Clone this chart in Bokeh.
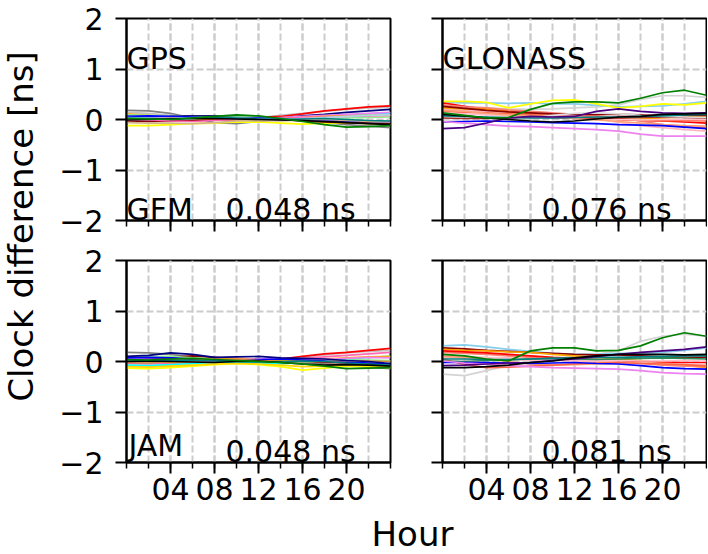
import math
from bokeh.plotting import figure
from bokeh.layouts import row, column
from bokeh.models import Range1d, FixedTicker, Label, CustomLabelingPolicy
from bokeh.embed import file_html
from bokeh.resources import INLINE

# ---------------- data ----------------
HOURS = [0, 2, 4, 6, 8, 10, 12, 14, 16, 18, 20, 22, 24]
X_MAJOR_TICKS = [4, 8, 12, 16, 20]
X_MINOR_TICKS = [0, 2, 4, 6, 8, 10, 12, 14, 16, 18, 20, 22, 24]
X_TICK_LABELS = ["04", "08", "12", "16", "20"]
Y_TICKS = [-2, -1, 0, 1, 2]
Y_TICK_LABELS = ["\u22122", "\u22121", "0", "1", "2"]

SYSTEMS = ["GPS", "GLONASS"]
CENTERS = ["GFM", "JAM"]
RMS_TEXT = [["0.048 ns", "0.076 ns"], ["0.048 ns", "0.081 ns"]]

GPS_GFM_COLORS = ["gray", "silver", "red", "navy", "midnightblue", "cyan", "yellow",
                  "violet", "orange", "darkred", "lightgreen", "hotpink", "blue", "tan",
                  "lightblue", "teal", "black", "green"]
GPS_GFM_VALUES = [
    [0.18, 0.17, 0.12, 0.03, -0.06, -0.08, -0.04, 0.00, -0.02, -0.06, -0.10, -0.13, -0.16],
    [0.14, 0.12, 0.08, 0.05, 0.03, 0.02, 0.04, 0.08, 0.12, 0.16, 0.20, 0.23, 0.24],
    [0.08, 0.07, 0.05, 0.03, 0.02, 0.03, 0.04, 0.06, 0.11, 0.17, 0.21, 0.25, 0.27],
    [0.06, 0.05, 0.06, 0.07, 0.06, 0.04, 0.04, 0.03, 0.07, 0.10, 0.14, 0.17, 0.20],
    [0.02, 0.03, 0.05, 0.07, 0.07, 0.05, 0.02, 0.02, 0.00, -0.03, -0.05, -0.08, -0.11],
    [0.03, 0.01, -0.01, -0.02, 0.00, 0.02, 0.00, -0.01, 0.02, 0.05, 0.08, 0.11, 0.13],
    [-0.12, -0.12, -0.10, -0.08, -0.07, -0.05, -0.05, -0.07, -0.09, -0.07, -0.06, -0.08, -0.10],
    [0.05, 0.06, 0.04, 0.03, 0.02, 0.00, 0.02, 0.04, 0.06, 0.08, 0.10, 0.12, 0.14],
    [0.11, 0.08, 0.05, 0.02, 0.00, -0.01, 0.00, 0.02, 0.04, 0.06, 0.07, 0.08, 0.08],
    [-0.03, -0.04, -0.03, -0.02, -0.01, 0.00, 0.01, 0.00, -0.03, -0.05, -0.06, -0.07, -0.08],
    [0.09, 0.08, 0.06, 0.05, 0.04, 0.05, 0.04, 0.02, 0.00, 0.02, 0.03, 0.04, 0.05],
    [0.00, -0.01, -0.03, -0.04, -0.02, 0.00, 0.01, 0.02, 0.04, 0.05, 0.06, 0.07, 0.08],
    [0.06, 0.07, 0.06, 0.05, 0.03, 0.02, 0.03, 0.02, 0.00, -0.02, -0.03, -0.04, -0.05],
    [-0.06, -0.07, -0.07, -0.08, -0.06, -0.03, -0.02, -0.03, -0.01, 0.00, -0.02, -0.04, -0.05],
    [0.04, 0.03, 0.02, 0.03, 0.04, 0.03, 0.01, 0.00, 0.02, 0.04, 0.06, 0.08, 0.09],
    [0.03, 0.02, 0.01, 0.03, 0.05, 0.03, 0.01, 0.00, 0.01, 0.02, 0.00, -0.02, -0.03],
    [-0.01, 0.00, 0.01, 0.02, 0.02, 0.01, 0.00, -0.01, -0.02, -0.04, -0.06, -0.08, -0.10],
    [0.02, 0.01, 0.00, 0.03, 0.06, 0.09, 0.07, 0.02, -0.04, -0.10, -0.15, -0.14, -0.12],
]

GPS_JAM_COLORS = ["gray", "silver", "red", "darkred", "lightgreen", "hotpink", "cyan",
                  "yellow", "gold", "orange", "violet", "blue", "peru", "teal", "black",
                  "green", "navy"]
GPS_JAM_VALUES = [
    [0.18, 0.17, 0.14, 0.08, 0.02, 0.00, -0.01, 0.00, -0.02, -0.05, -0.08, -0.11, -0.14],
    [-0.08, -0.09, -0.07, -0.05, -0.03, -0.02, 0.00, 0.03, 0.08, 0.13, 0.17, 0.20, 0.22],
    [0.03, 0.04, 0.05, 0.06, 0.05, 0.04, 0.03, 0.05, 0.10, 0.15, 0.18, 0.22, 0.26],
    [0.05, 0.06, 0.08, 0.11, 0.08, 0.05, 0.03, 0.02, 0.00, -0.02, -0.03, -0.04, -0.05],
    [0.08, 0.09, 0.10, 0.07, 0.05, 0.04, 0.03, 0.04, 0.06, 0.05, 0.04, 0.03, 0.02],
    [-0.04, -0.05, -0.04, -0.02, 0.00, 0.01, 0.02, 0.03, 0.06, 0.09, 0.12, 0.15, 0.18],
    [-0.07, -0.08, -0.06, -0.04, -0.02, -0.01, -0.03, -0.05, -0.02, 0.02, 0.05, 0.08, 0.10],
    [-0.13, -0.14, -0.12, -0.09, -0.06, -0.04, -0.06, -0.10, -0.17, -0.13, -0.09, -0.10, -0.12],
    [-0.10, -0.11, -0.09, -0.07, -0.05, -0.04, -0.05, -0.07, -0.10, -0.09, -0.07, -0.08, -0.09],
    [0.02, 0.00, -0.02, 0.00, 0.05, 0.06, 0.04, 0.02, 0.03, 0.05, 0.07, 0.09, 0.10],
    [0.06, 0.05, 0.03, 0.02, 0.03, 0.04, 0.05, 0.06, 0.05, 0.04, 0.06, 0.08, 0.07],
    [0.07, 0.08, 0.07, 0.05, 0.03, 0.02, 0.04, 0.05, 0.03, 0.01, -0.01, -0.03, -0.05],
    [-0.02, -0.03, 0.00, 0.02, 0.05, 0.04, 0.02, 0.00, -0.01, 0.00, 0.02, 0.01, 0.00],
    [0.01, 0.02, 0.03, 0.02, 0.01, 0.00, -0.01, 0.00, 0.01, 0.00, -0.03, -0.05, -0.07],
    [0.00, 0.01, 0.00, -0.01, -0.02, 0.00, 0.01, -0.02, -0.05, -0.07, -0.06, -0.07, -0.09],
    [0.04, 0.03, 0.05, 0.06, 0.04, 0.02, 0.00, -0.02, -0.05, -0.09, -0.14, -0.13, -0.12],
    [0.10, 0.12, 0.17, 0.14, 0.08, 0.09, 0.10, 0.07, 0.06, 0.05, 0.02, 0.00, -0.04],
]

GLO_GFM_COLORS = ["lightgray", "skyblue", "red", "salmon", "lightpink", "orange", "tomato",
                  "darkred", "pink", "brown", "lightsalmon", "gainsboro", "teal", "blue",
                  "violet", "yellow", "indigo", "black", "green"]
GLO_GFM_VALUES = [
    [0.26, 0.24, 0.23, 0.21, 0.20, 0.21, 0.23, 0.25, 0.29, 0.40, 0.47, 0.47, 0.44],
    [0.34, 0.33, 0.33, 0.32, 0.33, 0.31, 0.31, 0.28, 0.25, 0.26, 0.27, 0.31, 0.36],
    [0.33, 0.26, 0.20, 0.16, 0.13, 0.10, 0.07, 0.03, 0.00, -0.02, -0.03, -0.05, -0.07],
    [0.29, 0.25, 0.23, 0.19, 0.16, 0.13, 0.10, 0.07, 0.03, -0.03, -0.10, -0.14, -0.16],
    [0.20, 0.18, 0.16, 0.15, 0.13, 0.10, 0.07, 0.02, -0.06, -0.12, -0.16, -0.20, -0.23],
    [0.23, 0.21, 0.20, 0.15, 0.10, 0.06, 0.03, 0.01, 0.00, 0.01, 0.03, 0.05, 0.07],
    [0.16, 0.14, 0.13, 0.11, 0.09, 0.07, 0.05, 0.03, 0.00, -0.02, -0.03, -0.02, -0.03],
    [0.26, 0.22, 0.18, 0.15, 0.13, 0.11, 0.10, 0.10, 0.10, 0.09, 0.07, 0.08, 0.08],
    [0.13, 0.11, 0.09, 0.07, 0.05, 0.04, 0.03, 0.02, 0.00, -0.01, 0.00, 0.00, 0.00],
    [0.03, 0.02, 0.02, 0.03, 0.05, 0.04, 0.02, 0.02, 0.03, 0.04, 0.05, 0.04, 0.03],
    [0.18, 0.16, 0.12, 0.09, 0.07, 0.05, 0.02, -0.01, -0.04, -0.07, -0.10, -0.12, -0.13],
    [0.00, -0.05, -0.04, -0.02, 0.03, 0.08, 0.12, 0.13, 0.11, 0.08, 0.06, 0.05, 0.04],
    [0.07, 0.06, 0.05, 0.04, 0.03, 0.03, 0.04, 0.05, 0.05, 0.06, 0.07, 0.09, 0.10],
    [-0.05, -0.04, -0.03, -0.04, -0.05, -0.06, -0.07, -0.08, -0.10, -0.11, -0.12, -0.15, -0.18],
    [-0.04, -0.07, -0.10, -0.13, -0.14, -0.16, -0.18, -0.20, -0.23, -0.29, -0.33, -0.33, -0.33],
    [0.36, 0.36, 0.34, 0.23, 0.31, 0.38, 0.39, 0.31, 0.23, 0.26, 0.31, 0.29, 0.33],
    [-0.18, -0.16, -0.07, 0.03, 0.06, 0.05, 0.06, 0.16, 0.21, 0.16, 0.13, 0.12, 0.13],
    [0.10, 0.07, 0.03, 0.00, -0.03, -0.05, -0.03, 0.01, 0.05, 0.06, 0.10, 0.11, 0.12],
    [0.13, 0.08, 0.03, 0.04, 0.20, 0.32, 0.35, 0.35, 0.33, 0.42, 0.53, 0.58, 0.48],
]

GLO_JAM_COLORS = ["lightgray", "skyblue", "darkred", "orange", "salmon", "red", "pink",
                  "lightpink", "lightsalmon", "tomato", "seagreen", "teal", "blue",
                  "violet", "indigo", "black", "green"]
GLO_JAM_VALUES = [
    [-0.25, -0.28, -0.18, -0.08, -0.02, 0.05, 0.11, 0.14, 0.21, 0.40, 0.50, 0.54, 0.50],
    [0.31, 0.33, 0.29, 0.24, 0.20, 0.16, 0.14, 0.14, 0.16, 0.16, 0.18, 0.22, 0.27],
    [0.27, 0.25, 0.22, 0.20, 0.18, 0.16, 0.14, 0.13, 0.13, 0.11, 0.09, 0.08, 0.08],
    [0.24, 0.22, 0.21, 0.19, 0.18, 0.14, 0.11, 0.08, 0.05, 0.02, -0.02, -0.07, -0.12],
    [0.18, 0.16, 0.14, 0.11, 0.08, 0.05, 0.03, 0.00, -0.02, -0.04, -0.07, -0.09, -0.10],
    [0.21, 0.19, 0.17, 0.14, 0.11, 0.08, 0.06, 0.04, 0.02, 0.00, -0.01, -0.02, -0.02],
    [0.11, 0.10, 0.08, 0.07, 0.05, 0.04, 0.03, 0.02, 0.02, 0.01, 0.01, 0.02, 0.01],
    [0.08, 0.07, 0.05, 0.04, 0.03, 0.02, 0.01, 0.00, -0.02, -0.03, -0.04, -0.05, -0.05],
    [0.10, 0.08, 0.05, 0.00, -0.05, -0.07, -0.06, -0.05, -0.04, -0.03, -0.05, -0.07, -0.08],
    [0.05, -0.06, -0.12, -0.11, -0.09, -0.07, -0.05, -0.03, -0.02, -0.04, -0.05, -0.06, -0.09],
    [0.01, 0.00, 0.02, 0.03, 0.05, 0.06, 0.05, 0.04, 0.05, 0.06, 0.07, 0.06, 0.05],
    [0.05, 0.05, 0.04, 0.04, 0.05, 0.06, 0.07, 0.08, 0.08, 0.09, 0.10, 0.11, 0.11],
    [-0.02, -0.02, -0.02, -0.03, -0.04, -0.03, -0.02, -0.04, -0.05, -0.08, -0.12, -0.14, -0.15],
    [0.01, -0.03, -0.05, -0.08, -0.10, -0.12, -0.13, -0.14, -0.15, -0.18, -0.22, -0.24, -0.25],
    [-0.08, -0.07, -0.05, -0.03, -0.02, 0.02, 0.05, 0.10, 0.14, 0.18, 0.21, 0.24, 0.29],
    [-0.12, -0.12, -0.10, -0.07, -0.02, 0.01, 0.07, 0.11, 0.14, 0.14, 0.14, 0.13, 0.14],
    [0.14, 0.11, 0.05, 0.01, 0.21, 0.27, 0.27, 0.21, 0.22, 0.31, 0.47, 0.57, 0.50],
]

Y_LABEL = "Clock difference [ns]"
X_LABEL = "Hour"

# ---------------- styling ----------------
FONT = "DejaVu Sans"
TICK_FS = "30px"
TEXT_FS = "30px"
AXIS_FS = "34px"
TEXT_CAP_HALF = 11      # half cap height (px) of 30px text, to sit text on its baseline
AXIS_CAP_HALF = 12
GRID_COLOR = "#cccccc"
FRAME_W = 264
FRAME_H = 202

HIDE_LABELS = CustomLabelingPolicy(code="""
for (const i of Array.from(indices)) { indices.unset(i) }
return indices
""")


def make_panel(colors, values, system_text, center_text, rms_text,
               left, right, top, bottom, show_x_labels, show_y_labels):
    p = figure(width=left + FRAME_W + right, height=top + FRAME_H + bottom,
               x_range=Range1d(0, 24), y_range=Range1d(-2, 2),
               output_backend="svg", toolbar_location=None,
               min_border_left=left, min_border_right=right,
               min_border_top=top, min_border_bottom=bottom,
               background_fill_color="white", border_fill_color="white")
    p.outline_line_color = "black"
    p.outline_line_width = 2
    p.outline_line_alpha = 1.0

    p.xaxis.ticker = FixedTicker(ticks=X_MAJOR_TICKS, minor_ticks=X_MINOR_TICKS)
    p.yaxis.ticker = FixedTicker(ticks=Y_TICKS, minor_ticks=[])
    p.xaxis.major_label_overrides = {t: l for t, l in zip(X_MAJOR_TICKS, X_TICK_LABELS)}
    p.yaxis.major_label_overrides = {t: l for t, l in zip(Y_TICKS, Y_TICK_LABELS)}

    for ax in (p.xaxis[0], p.yaxis[0]):
        ax.axis_line_color = "black"
        ax.axis_line_width = 2
        ax.major_tick_line_color = "black"
        ax.major_tick_line_width = 2
        ax.minor_tick_line_color = "black"
        ax.minor_tick_line_width = 1.5
        ax.major_tick_in = 0
        ax.major_tick_out = 11
        ax.minor_tick_in = 0
        ax.major_label_text_font = FONT
        ax.major_label_text_font_size = TICK_FS
        ax.major_label_text_color = "black"
    p.xaxis.minor_tick_out = 6
    p.yaxis.minor_tick_out = 0
    p.xaxis.major_label_standoff = 4
    p.yaxis.major_label_standoff = 12
    if not show_x_labels:
        p.xaxis.major_label_text_font_size = "1px"
        p.xaxis.major_label_standoff = 0
        p.xaxis.major_label_policy = HIDE_LABELS
    if not show_y_labels:
        p.yaxis.major_label_text_font_size = "1px"
        p.yaxis.major_label_standoff = 0
        p.yaxis.major_label_policy = HIDE_LABELS

    for g in (p.xgrid[0], p.ygrid[0]):
        g.grid_line_color = GRID_COLOR
        g.grid_line_dash = "7 3"
        g.grid_line_width = 2
    p.xgrid.minor_grid_line_color = GRID_COLOR
    p.xgrid.minor_grid_line_dash = "7 3"
    p.xgrid.minor_grid_line_width = 2

    for c, v in zip(colors, values):
        p.line(HOURS, v, line_color=c, line_width=1.7)

    def add_text(x, y, txt, lift=0, shift=0):
        p.add_layout(Label(x=x, y=y, x_offset=shift, y_offset=TEXT_CAP_HALF + lift,
                           text=txt, text_font=FONT,
                           text_font_size=TEXT_FS, text_align="left",
                           text_baseline="middle", text_color="black",
                           level="overlay"))

    if system_text:
        add_text(0, 1, system_text)
    if center_text:
        # letters with a descender (J) are lifted so the frame does not cut them
        has_desc = center_text.startswith("J")
        add_text(0, -2, center_text, lift=6 if has_desc else 0, shift=2 if has_desc else 0)
    add_text(9, -2, rms_text)
    return p


YLAB_W = 40
TOP_B, GAP_B, BOT_B = 18, 20, 50
LEFT_L, LEFT_R, RIGHT_L, RIGHT_R = 86, 20, 32, 1
TOP_H = TOP_B + FRAME_H + GAP_B
BOT_H = GAP_B + FRAME_H + BOT_B
XLAB_H = 553 - TOP_H - BOT_H

tl = make_panel(GPS_GFM_COLORS, GPS_GFM_VALUES, SYSTEMS[0], CENTERS[0], RMS_TEXT[0][0],
                LEFT_L, LEFT_R, TOP_B, GAP_B, False, True)
tr = make_panel(GLO_GFM_COLORS, GLO_GFM_VALUES, SYSTEMS[1], None, RMS_TEXT[0][1],
                RIGHT_L, RIGHT_R, TOP_B, GAP_B, False, False)
bl = make_panel(GPS_JAM_COLORS, GPS_JAM_VALUES, None, CENTERS[1], RMS_TEXT[1][0],
                LEFT_L, LEFT_R, GAP_B, BOT_B, True, True)
br = make_panel(GLO_JAM_COLORS, GLO_JAM_VALUES, None, None, RMS_TEXT[1][1],
                RIGHT_L, RIGHT_R, GAP_B, BOT_B, True, False)

panels_w = tl.width + tr.width


def blank_fig(w, h):
    f = figure(width=w, height=h, x_range=Range1d(0, w), y_range=Range1d(0, h),
               output_backend="svg", toolbar_location=None, min_border=0,
               outline_line_color=None, background_fill_color="white",
               border_fill_color="white")
    f.axis.visible = False
    f.grid.visible = False
    return f


total_h = TOP_H + BOT_H
ylab = blank_fig(YLAB_W, total_h)
ylab.add_layout(Label(x=20, y=total_h - 226, text=Y_LABEL, text_font=FONT,
                      text_font_size=AXIS_FS, text_align="center",
                      text_baseline="middle", angle=math.pi / 2, text_color="black"))

xlab = blank_fig(panels_w, XLAB_H)
xlab.add_layout(Label(x=412 - YLAB_W, y=XLAB_H // 2 - AXIS_CAP_HALF, y_offset=AXIS_CAP_HALF,
                      text=X_LABEL, text_font=FONT, text_font_size=AXIS_FS,
                      text_align="center", text_baseline="middle", text_color="black"))

layout = row(ylab, column(row(tl, tr), row(bl, br), xlab))

with open("out.html", "w") as fh:
    fh.write(file_html(layout, INLINE))
